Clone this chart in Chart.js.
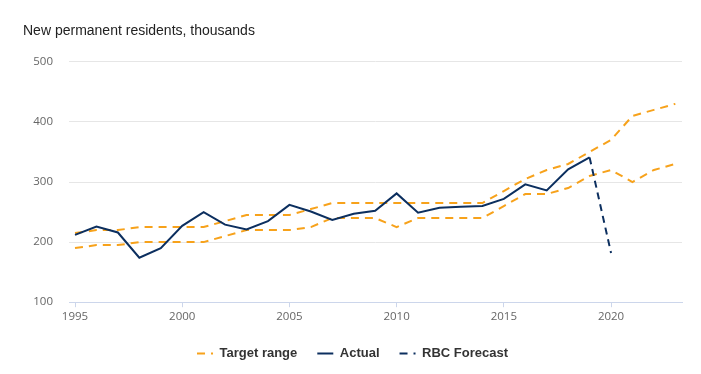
<!DOCTYPE html>
<html>
<head>
<meta charset="utf-8">
<script src="https://cdn.jsdelivr.net/npm/chart.js@4/dist/chart.umd.min.js"></script>
<style>
  html, body { margin: 0; padding: 0; background: #fff; }
  #wrap { position: relative; width: 701px; height: 374px; }
</style>
</head>
<body>
<div id="wrap"><canvas id="chart"></canvas></div>
<script>
// Data (thousands of new permanent residents)
const years = [1995, 1996, 1997, 1998, 1999, 2000, 2001, 2002, 2003, 2004,
  2005, 2006, 2007, 2008, 2009, 2010, 2011, 2012, 2013, 2014,
  2015, 2016, 2017, 2018, 2019, 2020, 2021, 2022, 2023];
const targetHigh = [215, 220, 220, 225, 225, 225, 225, 235, 245, 245,
  245, 255, 265, 265, 265, 265, 265, 265, 265, 265,
  285, 305, 320, 330, 350, 370, 410, 420, 430];
const targetLow = [190, 195, 195, 200, 200, 200, 200, 210, 220, 220,
  220, 225, 240, 240, 240, 225, 240, 240, 240, 240,
  260, 280, 280, 290, 310, 320, 300, 320, 330];
const actual = [212, 226, 216, 174, 190, 227, 250, 229, 221, 235,
  262, 251, 237, 247, 252, 281, 249, 257, 259, 260,
  272, 296, 286, 321, 341];
const forecastYears = [2019, 2020];
const forecast = [341, 182];
const xTicks = [1995, 2000, 2005, 2010, 2015, 2020];

const ORANGE = '#f7a21b';
const NAVY = '#0c2f5f';
const TICK_FONT = { family: '"Open Sans", Arial, sans-serif', size: 11.5 };

const pts = (xs, ys) => ys.map((y, i) => ({ x: xs[i], y: y }));

new Chart(document.getElementById('chart'), {
  type: 'line',
  data: {
    datasets: [
      {
        label: 'Target range',
        data: pts(years, targetHigh),
        borderColor: ORANGE,
        backgroundColor: ORANGE,
        borderWidth: 2,
        borderDash: [8, 6],
        order: 2
      },
      {
        label: 'Actual',
        data: pts(years, actual),
        borderColor: NAVY,
        backgroundColor: NAVY,
        borderWidth: 2,
        order: 0
      },
      {
        label: 'RBC Forecast',
        data: pts(forecastYears, forecast),
        borderColor: NAVY,
        backgroundColor: NAVY,
        borderWidth: 2,
        borderDash: [7, 5],
        order: 1
      },
      {
        label: 'Target low',
        data: pts(years, targetLow),
        borderColor: ORANGE,
        backgroundColor: ORANGE,
        borderWidth: 2,
        borderDash: [8, 6],
        order: 3
      }
    ]
  },
  options: {
    responsive: true,
    maintainAspectRatio: false,
    animation: false,
    elements: {
      point: { radius: 0, hoverRadius: 0 },
      line: { tension: 0 }
    },
    layout: { padding: { top: 21, left: 23, right: 19, bottom: 4 } },
    scales: {
      x: {
        type: 'linear',
        min: 1994.72,
        max: 2023.31,
        afterBuildTicks: (scale) => {
          scale.ticks = xTicks.map(v => ({ value: v }));
        },
        ticks: {
          color: '#666',
          font: TICK_FONT,
          padding: 3,
          maxRotation: 0,
          callback: (v) => String(v)
        },
        grid: {
          drawOnChartArea: false,
          drawTicks: true,
          tickLength: 5,
          color: '#ccd6eb'
        },
        border: { color: '#ccd6eb', width: 1 }
      },
      y: {
        min: 100,
        max: 500,
        afterFit: (scale) => { scale.width = 46; },
        ticks: {
          stepSize: 100,
          color: '#666',
          padding: 16,
          font: TICK_FONT
        },
        grid: { color: '#e6e6e6', drawTicks: false },
        border: { display: false }
      }
    },
    plugins: {
      title: {
        display: true,
        text: 'New permanent residents, thousands',
        align: 'start',
        color: '#222',
        font: { family: 'Arial, "Liberation Sans", sans-serif', size: 14, weight: 'normal' },
        padding: { top: 2, bottom: 22 }
      },
      legend: {
        position: 'bottom',
        labels: {
          usePointStyle: true,
          pointStyle: 'line',
          pointStyleWidth: 16,
          boxWidth: 16,
          padding: 20,
          color: '#333',
          font: { family: 'Arial, "Liberation Sans", sans-serif', size: 13, weight: 'bold' },
          generateLabels: (chart) => Chart.defaults.plugins.legend.labels.generateLabels(chart).map(item => {
            const ds = chart.data.datasets[item.datasetIndex];
            item.lineDash = ds.borderDash ? [8, 6] : [];
            return item;
          }),
          filter: (item) => item.text !== 'Target low',
          sort: (a, b) => a.datasetIndex - b.datasetIndex
        }
      },
      tooltip: { enabled: false }
    }
  }
});
</script>
</body>
</html>
